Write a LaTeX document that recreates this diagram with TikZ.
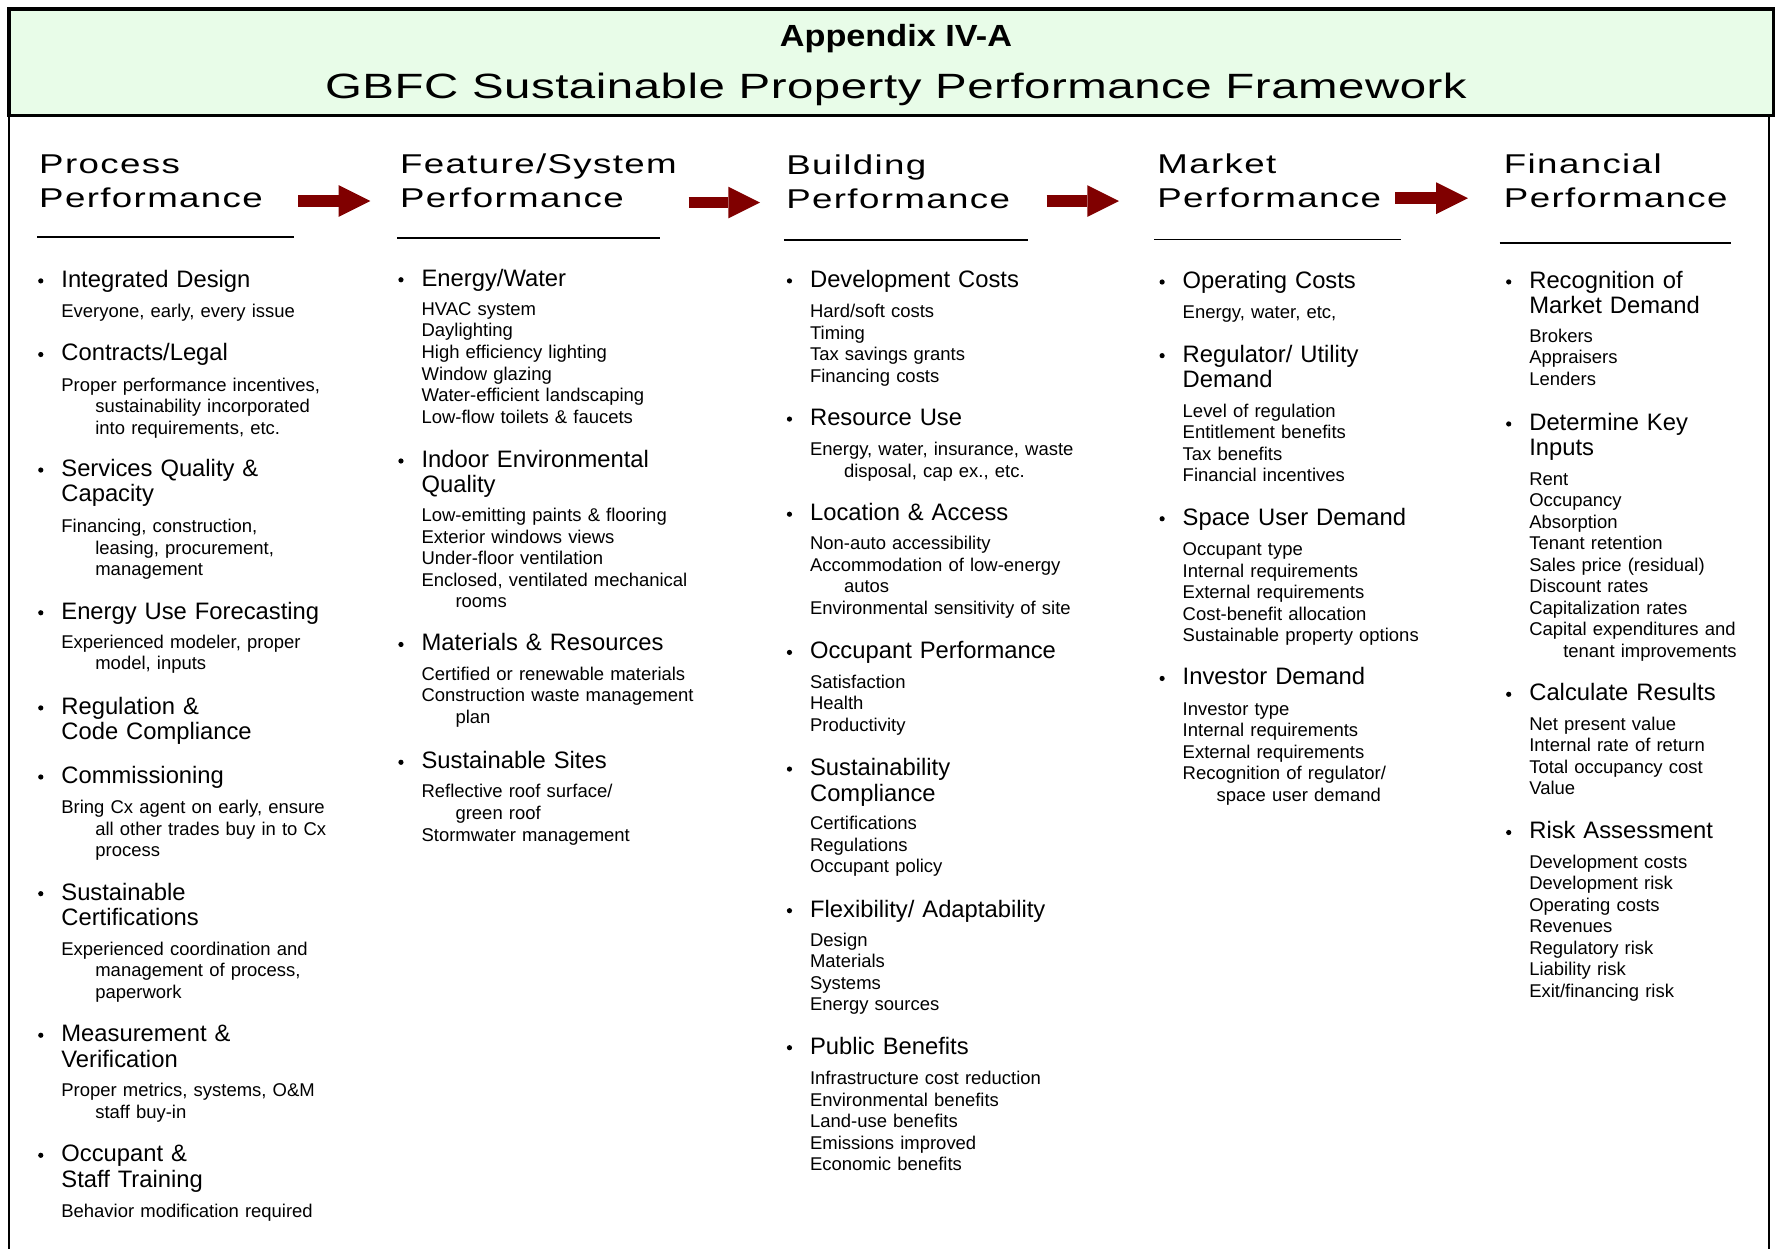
\documentclass[tikz,border=0pt]{standalone}
\usepackage{fontspec}
\setmainfont{Liberation Sans}
\newfontfamily\headfont[FakeStretch=1.35,LetterSpace=5]{Liberation Sans}
\newfontfamily\bigtitlefont[FakeStretch=1.35,LetterSpace=1.5]{Liberation Sans}
\newfontfamily\appxfont[FakeStretch=1.12]{Liberation Sans}
\usetikzlibrary{arrows.meta}
\definecolor{titlegreen}{RGB}{232,252,232}
\definecolor{flowred}{RGB}{128,0,0}
\tikzset{>=stealth}
\newcommand{\subind}{\hspace*{30pt}}
\tikzset{
  itemhead/.style={anchor=base west,inner sep=0pt,text width=290pt,align=left,
    font=\fontsize{21}{22.5}\selectfont},
  itemsub/.style={anchor=base west,inner sep=0pt,text width=290pt,align=left,
    font=\fontsize{16.3}{19}\selectfont},
  colhead/.style={anchor=base west,inner sep=0pt,text width=270pt,align=left,
    font=\headfont\fontsize{24}{30}\selectfont},
  dot/.style={circle,fill,inner sep=0pt,minimum size=4.6pt},
  flow/.style={draw=flowred,line width=10.5pt,
    -{Triangle[length=28pt,width=28pt,line width=0pt]}},
  headrule/.style={line width=1.6pt}
}
\newcommand{\bulletitem}[4]{%
  \node[itemhead] (#1) at (#2,#3) {#4};
  \node[dot] (#1d) at ([xshift=-18pt,yshift=5.7pt]#1.base west) {};}

\begin{document}
\begin{tikzpicture}[x=1pt,y=-1pt]
  \useasboundingbox (0,0) rectangle (1568,1102);
  \draw[line width=2pt] (8,102) -- (8,1110);
  \draw[line width=2pt] (1562,102) -- (1562,1110);
  \draw[fill=titlegreen,line width=3pt] (8,8) rectangle (1566,102);
  \node[anchor=base,inner sep=0pt,font=\appxfont\fontsize{27}{30}\selectfont\bfseries] (appx) at (791,41.2) {Appendix IV-A};
  \node[anchor=base,inner sep=0pt,font=\bigtitlefont\fontsize{31}{36}\selectfont] (gbfc) at (791,87.4) {GBFC Sustainable Property Performance Framework};

  \node[colhead] (hproc) at (34.4,153) {Process\\Performance};
  \node[colhead] (hfeat) at (353,153) {Feature/System\\Performance};
  \node[colhead] (hbldg) at (694,154.5) {Building\\Performance};
  \node[colhead] (hmkt) at (1021.6,153) {Market\\Performance};
  \node[colhead] (hfin) at (1327.6,153) {Financial\\Performance};

  \coordinate (go1) at (263.5,177.5); \coordinate (to1) at (327,177.5);
  \coordinate (go2) at (608,178.8);   \coordinate (to2) at (671,178.8);
  \coordinate (go3) at (924,177.5);   \coordinate (to3) at (988,177.5);
  \coordinate (go4) at (1232,175);    \coordinate (to4) at (1296,175);
  \draw[flow] (go1) -- (to1);
  \draw[flow] (go2) -- (to2);
  \draw[flow] (go3) -- (to3);
  \draw[flow] (go4) -- (to4);

  \draw[headrule] (33,209.5) -- (260,209.5);
  \draw[headrule] (350.5,210) -- (583,210);
  \draw[headrule] (692,212) -- (908,212);
  \draw[headrule] (1019,211.5) -- (1237,211.5);
  \draw[headrule] (1324,214.5) -- (1528,214.5);

  % process column
  \bulletitem{proc1}{54}{253.7}{Integrated Design}
  \node[itemsub] (proc1s) at (54,280.5) {Everyone, early, every issue};
  \bulletitem{proc2}{54}{318.7}{Contracts/Legal}
  \node[itemsub] (proc2s) at (54,345.5) {Proper performance incentives,\\\subind sustainability incorporated\\\subind into requirements, etc.};
  \bulletitem{proc3}{54}{420.7}{Services Quality \&\\Capacity}
  \node[itemsub] (proc3s) at (54,470.5) {Financing, construction,\\\subind leasing, procurement,\\\subind management};
  \bulletitem{proc4}{54}{546.7}{Energy Use Forecasting}
  \node[itemsub] (proc4s) at (54,572.5) {Experienced modeler, proper\\\subind model, inputs};
  \bulletitem{proc5}{54}{630.7}{Regulation \&\\Code Compliance}
  \bulletitem{proc6}{54}{691.7}{Commissioning}
  \node[itemsub] (proc6s) at (54,718.5) {Bring Cx agent on early, ensure\\\subind all other trades buy in to Cx\\\subind process};
  \bulletitem{proc7}{54}{794.7}{Sustainable\\Certifications}
  \node[itemsub] (proc7s) at (54,843.5) {Experienced coordination and\\\subind management of process,\\\subind paperwork};
  \bulletitem{proc8}{54}{919.7}{Measurement \&\\Verification}
  \node[itemsub] (proc8s) at (54,968.5) {Proper metrics, systems, O\&M\\\subind staff buy-in};
  \bulletitem{proc9}{54}{1025.7}{Occupant \&\\Staff Training}
  \node[itemsub] (proc9s) at (54,1074.5) {Behavior modification required};

  % feature/system column
  \bulletitem{feat1}{372}{252.7}{Energy/Water}
  \node[itemsub] (feat1s) at (372,278.5) {HVAC system\\Daylighting\\High efficiency lighting\\Window glazing\\Water-efficient landscaping\\Low-flow toilets \& faucets};
  \bulletitem{feat2}{372}{412.7}{Indoor Environmental\\Quality}
  \node[itemsub] (feat2s) at (372,460.5) {Low-emitting paints \& flooring\\Exterior windows views\\Under-floor ventilation\\Enclosed, ventilated mechanical\\\subind rooms};
  \bulletitem{feat3}{372}{574.7}{Materials \& Resources}
  \node[itemsub] (feat3s) at (372,600.5) {Certified or renewable materials\\Construction waste management\\\subind plan};
  \bulletitem{feat4}{372}{678.7}{Sustainable Sites}
  \node[itemsub] (feat4s) at (372,704.5) {Reflective roof surface/\\\subind green roof\\Stormwater management};

  % building column
  \bulletitem{bldg1}{715}{253.7}{Development Costs}
  \node[itemsub] (bldg1s) at (715,280.5) {Hard/soft costs\\Timing\\Tax savings grants\\Financing costs};
  \bulletitem{bldg2}{715}{375.7}{Resource Use}
  \node[itemsub] (bldg2s) at (715,402.5) {Energy, water, insurance, waste\\\subind disposal, cap ex., etc.};
  \bulletitem{bldg3}{715}{459.7}{Location \& Access}
  \node[itemsub] (bldg3s) at (715,485.5) {Non-auto accessibility\\Accommodation of low-energy\\\subind autos\\Environmental sensitivity of site};
  \bulletitem{bldg4}{715}{581.7}{Occupant Performance}
  \node[itemsub] (bldg4s) at (715,607.5) {Satisfaction\\Health\\Productivity};
  \bulletitem{bldg5}{715}{684.7}{Sustainability\\Compliance}
  \node[itemsub] (bldg5s) at (715,732.5) {Certifications\\Regulations\\Occupant policy};
  \bulletitem{bldg6}{715}{809.7}{Flexibility/ Adaptability}
  \node[itemsub] (bldg6s) at (715,835.5) {Design\\Materials\\Systems\\Energy sources};
  \bulletitem{bldg7}{715}{930.7}{Public Benefits}
  \node[itemsub] (bldg7s) at (715,957.5) {Infrastructure cost reduction\\Environmental benefits\\Land-use benefits\\Emissions improved\\Economic benefits};

  % market column
  \bulletitem{mkt1}{1044}{254.7}{Operating Costs}
  \node[itemsub] (mkt1s) at (1044,281.5) {Energy, water, etc,};
  \bulletitem{mkt2}{1044}{319.7}{Regulator/ Utility\\Demand}
  \node[itemsub] (mkt2s) at (1044,368.5) {Level of regulation\\Entitlement benefits\\Tax benefits\\Financial incentives};
  \bulletitem{mkt3}{1044}{463.7}{Space User Demand}
  \node[itemsub] (mkt3s) at (1044,490.5) {Occupant type\\Internal requirements\\External requirements\\Cost-benefit allocation\\Sustainable property options};
  \bulletitem{mkt4}{1044}{604.7}{Investor Demand}
  \node[itemsub] (mkt4s) at (1044,631.5) {Investor type\\Internal requirements\\External requirements\\Recognition of regulator/\\\subind space user demand};

  % financial column
  \bulletitem{fin1}{1350}{254.6}{Recognition of\\Market Demand}
  \node[itemsub] (fin1s) at (1350,302.2) {Brokers\\Appraisers\\Lenders};
  \bulletitem{fin2}{1350}{380}{Determine Key\\Inputs}
  \node[itemsub] (fin2s) at (1350,428.5) {Rent\\Occupancy\\Absorption\\Tenant retention\\Sales price (residual)\\Discount rates\\Capitalization rates\\Capital expenditures and\\\subind tenant improvements};
  \bulletitem{fin3}{1350}{618.7}{Calculate Results}
  \node[itemsub] (fin3s) at (1350,644.5) {Net present value\\Internal rate of return\\Total occupancy cost\\Value};
  \bulletitem{fin4}{1350}{740.7}{Risk Assessment}
  \node[itemsub] (fin4s) at (1350,766.5) {Development costs\\Development risk\\Operating costs\\Revenues\\Regulatory risk\\Liability risk\\Exit/financing risk};
\end{tikzpicture}
\end{document}
